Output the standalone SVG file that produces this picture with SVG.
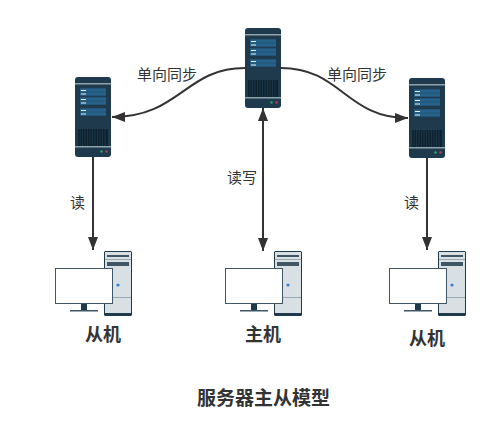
<svg xmlns="http://www.w3.org/2000/svg" width="501" height="437" viewBox="0 0 501 437">
<style>
text{font-family:"Liberation Sans","Noto Sans CJK SC",sans-serif;fill:#333}
.lbl{font-size:15px}
.cap{font-size:18px;font-weight:bold;text-anchor:middle}
.con{fill:none;stroke:#333;stroke-width:2}
.panel{fill:#27628a}
.mark{fill:#e6eef2}
.seam{fill:#1f4e6e}
</style>
<defs>
<marker id="arr" markerUnits="userSpaceOnUse" markerWidth="14" markerHeight="12" refX="13" refY="5" orient="auto-start-reverse" viewBox="0 0 14 10"><path d="M0 0L13 5L0 10z" fill="#333"/></marker>
<g id="server">
<rect width="36" height="80" rx="3" fill="#1f3a4d"/>
<rect y="6" width="36" height="1.500" fill="#8fa3ad"/>
<rect class="panel" x="5" y="11.300" width="26" height="7.400"/><rect class="seam" x="5" y="14.700" width="26" height="0.600"/>
<rect class="panel" x="5" y="20.300" width="26" height="7.400"/><rect class="seam" x="5" y="23.700" width="26" height="0.600"/>
<rect class="panel" x="5" y="31.300" width="26" height="7.400"/><rect class="seam" x="5" y="34.700" width="26" height="0.600"/>
<rect class="mark" x="6" y="13" width="5" height="1"/><rect class="mark" x="6" y="16.500" width="5" height="1"/>
<rect class="mark" x="6" y="22" width="5" height="1"/><rect class="mark" x="6" y="25.500" width="5" height="1"/>
<rect class="mark" x="6" y="33" width="5" height="1"/><rect class="mark" x="6" y="36.500" width="5" height="1"/>
<rect x="3" y="52" width="30" height="17" fill="#0e2230"/>
<path d="M5 52v17M7.500 52v17M10 52v17M12.500 52v17M15 52v17M17.500 52v17M20 52v17M22.500 52v17M25 52v17M27.500 52v17M30 52v17" stroke="#1f3a4d" stroke-width="0.800"/>
<rect y="69" width="36" height="1.500" fill="#8fa3ad"/>
<circle cx="26.500" cy="74.500" r="1.300" fill="#2f9e6e"/><circle cx="31.500" cy="74.500" r="1.300" fill="#b83a5a"/>
</g>
<g id="pc">
<rect x="49" y="0" width="28" height="65" rx="1.500" fill="#1f3a4d"/>
<rect x="50" y="1" width="26" height="61" fill="#d9e0e4"/>
<rect x="52" y="4" width="22" height="2" fill="#3f5666"/>
<rect x="52" y="11" width="22" height="4" fill="#3f5666"/>
<path d="M50 8.500H76M50 46.500H76" stroke="#8a99a3" stroke-width="0.800"/>
<circle cx="63" cy="34" r="1.600" fill="#2f7fd6"/>
<rect x="26" y="53" width="6" height="6" fill="#1f3a4d"/>
<rect x="15" y="59" width="28" height="1.500" fill="#3f5666"/>
<rect x="0.500" y="17.500" width="57" height="35" fill="#fff" stroke="#3f5666"/>
</g>
</defs>
<g id="connectors">
<path class="con" marker-end="url(#arr)" d="M245 68C185 68 180 117 112 117"/>
<path class="con" marker-end="url(#arr)" d="M281 68C341 68 346 118 408 118"/>
<path class="con" marker-end="url(#arr)" d="M93 157V250"/>
<path class="con" marker-end="url(#arr)" marker-start="url(#arr)" d="M263 108V251"/>
<path class="con" marker-end="url(#arr)" d="M427 158V250"/>
</g>
<g id="master-server"><use href="#server" x="245" y="28"/></g>
<g id="slave-server-left"><use href="#server" x="75" y="77"/></g>
<g id="slave-server-right"><use href="#server" x="409" y="78"/></g>
<g id="master-pc"><use href="#pc" x="225" y="251"/></g>
<g id="slave-pc-left"><use href="#pc" x="55" y="251"/></g>
<g id="slave-pc-right"><use href="#pc" x="389" y="251"/></g>
<g id="labels">
<text class="lbl" x="137" y="80">单向同步</text>
<text class="lbl" x="327" y="80">单向同步</text>
<text class="lbl" x="70" y="208">读</text>
<text class="lbl" x="227" y="183">读写</text>
<text class="lbl" x="404" y="208">读</text>
<text class="cap" x="103" y="341">从机</text>
<text class="cap" x="263" y="341">主机</text>
<text class="cap" x="427" y="345">从机</text>
<text class="cap" x="263.500" y="405" style="font-size:19px">服务器主从模型</text>
</g>
</svg>
